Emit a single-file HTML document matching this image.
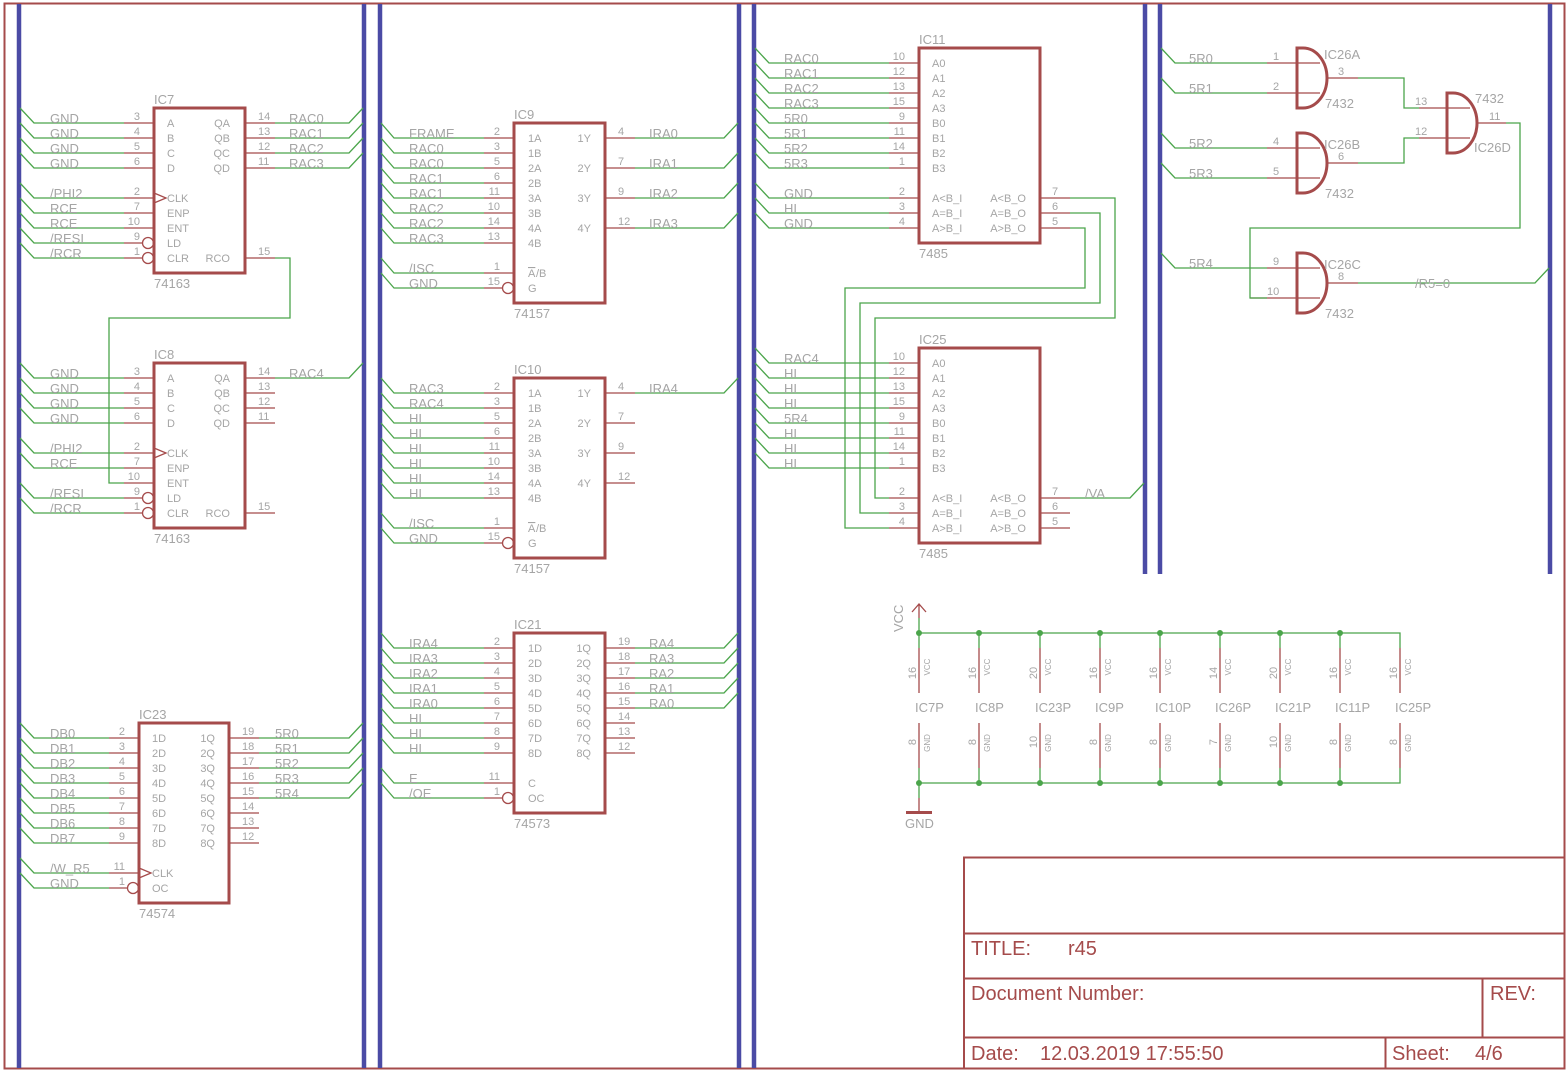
<!DOCTYPE html>
<html><head><meta charset="utf-8"><style>
html,body{margin:0;padding:0;background:#fff}
svg{display:block}
.g{stroke:#4ba54b;stroke-width:1.3;fill:none}
.r{stroke:#a54b4b;stroke-width:1.3;fill:none}
.bx{stroke:#a54b4b;stroke-width:3;fill:none}
.b{stroke:#4b4ba5;stroke-width:4.5;fill:none}
text{font-family:"Liberation Sans",sans-serif;fill:#a5a5a5}
.n{font-size:13px}
.p{font-size:11px}
.s{font-size:10.5px}
.tb{font-size:20px;fill:#a54b4b}
</style></head><body>
<svg width="1567" height="1073" viewBox="0 0 1567 1073" xmlns="http://www.w3.org/2000/svg">
<!-- frame -->
<rect x="4.5" y="3.5" width="1560" height="1065" fill="none" stroke="#a54b4b" stroke-width="2"/>
<!-- buses -->
<path class="b" d="M19 4V1068M364 4V1068M380 4V1068M739 4V1068M754 4V1068M1145 4V574M1160 4V574M1550 4V574"/>

<!-- ================= IC7 ================= -->
<rect class="bx" x="154" y="108" width="91" height="165"/>
<path class="g" d="M20 108L34 123H124M20 123L34 138H124M20 138L34 153H124M20 153L34 168H124M20 183L34 198H124M20 198L34 213H124M20 213L34 228H124M20 228L34 243H124M20 243L34 258H124"/>
<path class="r" d="M124 123H154M124 138H154M124 153H154M124 168H154M124 198H154M124 213H154M124 228H154M124 243H142M124 258H142M154 193L166 198L154 203"/>
<circle class="r" cx="148" cy="243" r="5.5"/><circle class="r" cx="148" cy="258" r="5.5"/>
<path class="r" d="M245 123H275M245 138H275M245 153H275M245 168H275M245 258H275"/>
<path class="g" d="M275 123H349L363 108M275 138H349L363 123M275 153H349L363 138M275 168H349L363 153M275 258H290V318H109V483H124"/>
<text class="n" x="154" y="104">IC7</text><text class="n" x="154" y="288">74163</text>
<g class="n"><text x="50" y="123">GND</text><text x="50" y="138">GND</text><text x="50" y="153">GND</text><text x="50" y="168">GND</text><text x="50" y="198">/PHI2</text><text x="50" y="213">RCE</text><text x="50" y="228">RCE</text><text x="50" y="243">/RESI</text><text x="50" y="258">/RCR</text>
<text x="289" y="123">RAC0</text><text x="289" y="138">RAC1</text><text x="289" y="153">RAC2</text><text x="289" y="168">RAC3</text></g>
<g class="p" text-anchor="end"><text x="140" y="120">3</text><text x="140" y="135">4</text><text x="140" y="150">5</text><text x="140" y="165">6</text><text x="140" y="195">2</text><text x="140" y="210">7</text><text x="140" y="225">10</text><text x="140" y="240">9</text><text x="140" y="255">1</text>
<text x="230" y="127">QA</text><text x="230" y="142">QB</text><text x="230" y="157">QC</text><text x="230" y="172">QD</text><text x="230" y="262">RCO</text></g>
<g class="p"><text x="258" y="120">14</text><text x="258" y="135">13</text><text x="258" y="150">12</text><text x="258" y="165">11</text><text x="258" y="255">15</text>
<text x="167" y="127">A</text><text x="167" y="142">B</text><text x="167" y="157">C</text><text x="167" y="172">D</text><text x="167" y="202">CLK</text><text x="167" y="217">ENP</text><text x="167" y="232">ENT</text><text x="167" y="247">LD</text><text x="167" y="262">CLR</text></g>

<!-- ================= IC8 ================= -->
<rect class="bx" x="154" y="363" width="91" height="165"/>
<path class="g" d="M20 363L34 378H124M20 378L34 393H124M20 393L34 408H124M20 408L34 423H124M20 438L34 453H124M20 453L34 468H124M20 483L34 498H124M20 498L34 513H124"/>
<path class="r" d="M124 378H154M124 393H154M124 408H154M124 423H154M124 453H154M124 468H154M124 483H154M124 498H142M124 513H142M154 448L166 453L154 458"/>
<circle class="r" cx="148" cy="498" r="5.5"/><circle class="r" cx="148" cy="513" r="5.5"/>
<path class="r" d="M245 378H275M245 393H275M245 408H275M245 423H275M245 513H275"/>
<path class="g" d="M275 378H349L363 363"/>
<text class="n" x="154" y="359">IC8</text><text class="n" x="154" y="543">74163</text>
<g class="n"><text x="50" y="378">GND</text><text x="50" y="393">GND</text><text x="50" y="408">GND</text><text x="50" y="423">GND</text><text x="50" y="453">/PHI2</text><text x="50" y="468">RCE</text><text x="50" y="498">/RESI</text><text x="50" y="513">/RCR</text><text x="289" y="378">RAC4</text></g>
<g class="p" text-anchor="end"><text x="140" y="375">3</text><text x="140" y="390">4</text><text x="140" y="405">5</text><text x="140" y="420">6</text><text x="140" y="450">2</text><text x="140" y="465">7</text><text x="140" y="480">10</text><text x="140" y="495">9</text><text x="140" y="510">1</text>
<text x="230" y="382">QA</text><text x="230" y="397">QB</text><text x="230" y="412">QC</text><text x="230" y="427">QD</text><text x="230" y="517">RCO</text></g>
<g class="p"><text x="258" y="375">14</text><text x="258" y="390">13</text><text x="258" y="405">12</text><text x="258" y="420">11</text><text x="258" y="510">15</text>
<text x="167" y="382">A</text><text x="167" y="397">B</text><text x="167" y="412">C</text><text x="167" y="427">D</text><text x="167" y="457">CLK</text><text x="167" y="472">ENP</text><text x="167" y="487">ENT</text><text x="167" y="502">LD</text><text x="167" y="517">CLR</text></g>

<!-- ================= IC23 ================= -->
<rect class="bx" x="139" y="723" width="90" height="180"/>
<path class="g" d="M20 723L34 738H109M20 738L34 753H109M20 753L34 768H109M20 768L34 783H109M20 783L34 798H109M20 798L34 813H109M20 813L34 828H109M20 828L34 843H109M20 858L34 873H109M20 873L34 888H109"/>
<path class="r" d="M109 738H139M109 753H139M109 768H139M109 783H139M109 798H139M109 813H139M109 828H139M109 843H139M109 873H139M109 888H127M139 868L151 873L139 878"/>
<circle class="r" cx="133" cy="888" r="5.5"/>
<path class="r" d="M229 738H259M229 753H259M229 768H259M229 783H259M229 798H259M229 813H259M229 828H259M229 843H259"/>
<path class="g" d="M259 738H349L363 723M259 753H349L363 738M259 768H349L363 753M259 783H349L363 768M259 798H349L363 783"/>
<text class="n" x="139" y="719">IC23</text><text class="n" x="139" y="918">74574</text>
<g class="n"><text x="50" y="738">DB0</text><text x="50" y="753">DB1</text><text x="50" y="768">DB2</text><text x="50" y="783">DB3</text><text x="50" y="798">DB4</text><text x="50" y="813">DB5</text><text x="50" y="828">DB6</text><text x="50" y="843">DB7</text><text x="50" y="873">/W_R5</text><text x="50" y="888">GND</text>
<text x="275" y="738">5R0</text><text x="275" y="753">5R1</text><text x="275" y="768">5R2</text><text x="275" y="783">5R3</text><text x="275" y="798">5R4</text></g>
<g class="p" text-anchor="end"><text x="125" y="735">2</text><text x="125" y="750">3</text><text x="125" y="765">4</text><text x="125" y="780">5</text><text x="125" y="795">6</text><text x="125" y="810">7</text><text x="125" y="825">8</text><text x="125" y="840">9</text><text x="125" y="870">11</text><text x="125" y="885">1</text>
<text x="215" y="742">1Q</text><text x="215" y="757">2Q</text><text x="215" y="772">3Q</text><text x="215" y="787">4Q</text><text x="215" y="802">5Q</text><text x="215" y="817">6Q</text><text x="215" y="832">7Q</text><text x="215" y="847">8Q</text></g>
<g class="p"><text x="242" y="735">19</text><text x="242" y="750">18</text><text x="242" y="765">17</text><text x="242" y="780">16</text><text x="242" y="795">15</text><text x="242" y="810">14</text><text x="242" y="825">13</text><text x="242" y="840">12</text>
<text x="152" y="742">1D</text><text x="152" y="757">2D</text><text x="152" y="772">3D</text><text x="152" y="787">4D</text><text x="152" y="802">5D</text><text x="152" y="817">6D</text><text x="152" y="832">7D</text><text x="152" y="847">8D</text><text x="152" y="877">CLK</text><text x="152" y="892">OC</text></g>

<!-- ================= IC9 ================= -->
<rect class="bx" x="514" y="123" width="91" height="180"/>
<path class="g" d="M381 123L394 138H484M381 138L394 153H484M381 153L394 168H484M381 168L394 183H484M381 183L394 198H484M381 198L394 213H484M381 213L394 228H484M381 228L394 243H484M381 258L394 273H484M381 273L394 288H484"/>
<path class="r" d="M484 138H514M484 153H514M484 168H514M484 183H514M484 198H514M484 213H514M484 228H514M484 243H514M484 273H514M484 288H502"/>
<circle class="r" cx="508" cy="288" r="5.5"/>
<path class="r" d="M605 138H635M605 168H635M605 198H635M605 228H635"/>
<path class="g" d="M635 138H724L738 123M635 168H724L738 153M635 198H724L738 183M635 228H724L738 213"/>
<text class="n" x="514" y="119">IC9</text><text class="n" x="514" y="318">74157</text>
<g class="n"><text x="409" y="138">FRAME</text><text x="409" y="153">RAC0</text><text x="409" y="168">RAC0</text><text x="409" y="183">RAC1</text><text x="409" y="198">RAC1</text><text x="409" y="213">RAC2</text><text x="409" y="228">RAC2</text><text x="409" y="243">RAC3</text><text x="409" y="273">/ISC</text><text x="409" y="288">GND</text>
<text x="649" y="138">IRA0</text><text x="649" y="168">IRA1</text><text x="649" y="198">IRA2</text><text x="649" y="228">IRA3</text></g>
<g class="p" text-anchor="end"><text x="500" y="135">2</text><text x="500" y="150">3</text><text x="500" y="165">5</text><text x="500" y="180">6</text><text x="500" y="195">11</text><text x="500" y="210">10</text><text x="500" y="225">14</text><text x="500" y="240">13</text><text x="500" y="270">1</text><text x="500" y="285">15</text>
<text x="591" y="142">1Y</text><text x="591" y="172">2Y</text><text x="591" y="202">3Y</text><text x="591" y="232">4Y</text></g>
<g class="p"><text x="618" y="135">4</text><text x="618" y="165">7</text><text x="618" y="195">9</text><text x="618" y="225">12</text>
<text x="528" y="142">1A</text><text x="528" y="157">1B</text><text x="528" y="172">2A</text><text x="528" y="187">2B</text><text x="528" y="202">3A</text><text x="528" y="217">3B</text><text x="528" y="232">4A</text><text x="528" y="247">4B</text><text x="528" y="277" text-decoration="overline">A</text><text x="536" y="277">/B</text><text x="528" y="292">G</text></g>

<!-- ================= IC10 ================= -->
<rect class="bx" x="514" y="378" width="91" height="180"/>
<path class="g" d="M381 378L394 393H484M381 393L394 408H484M381 408L394 423H484M381 423L394 438H484M381 438L394 453H484M381 453L394 468H484M381 468L394 483H484M381 483L394 498H484M381 513L394 528H484M381 528L394 543H484"/>
<path class="r" d="M484 393H514M484 408H514M484 423H514M484 438H514M484 453H514M484 468H514M484 483H514M484 498H514M484 528H514M484 543H502"/>
<circle class="r" cx="508" cy="543" r="5.5"/>
<path class="r" d="M605 393H635M605 423H635M605 453H635M605 483H635"/>
<path class="g" d="M635 393H724L738 378"/>
<text class="n" x="514" y="374">IC10</text><text class="n" x="514" y="573">74157</text>
<g class="n"><text x="409" y="393">RAC3</text><text x="409" y="408">RAC4</text><text x="409" y="423">HI</text><text x="409" y="438">HI</text><text x="409" y="453">HI</text><text x="409" y="468">HI</text><text x="409" y="483">HI</text><text x="409" y="498">HI</text><text x="409" y="528">/ISC</text><text x="409" y="543">GND</text><text x="649" y="393">IRA4</text></g>
<g class="p" text-anchor="end"><text x="500" y="390">2</text><text x="500" y="405">3</text><text x="500" y="420">5</text><text x="500" y="435">6</text><text x="500" y="450">11</text><text x="500" y="465">10</text><text x="500" y="480">14</text><text x="500" y="495">13</text><text x="500" y="525">1</text><text x="500" y="540">15</text>
<text x="591" y="397">1Y</text><text x="591" y="427">2Y</text><text x="591" y="457">3Y</text><text x="591" y="487">4Y</text></g>
<g class="p"><text x="618" y="390">4</text><text x="618" y="420">7</text><text x="618" y="450">9</text><text x="618" y="480">12</text>
<text x="528" y="397">1A</text><text x="528" y="412">1B</text><text x="528" y="427">2A</text><text x="528" y="442">2B</text><text x="528" y="457">3A</text><text x="528" y="472">3B</text><text x="528" y="487">4A</text><text x="528" y="502">4B</text><text x="528" y="532" text-decoration="overline">A</text><text x="536" y="532">/B</text><text x="528" y="547">G</text></g>

<!-- ================= IC21 ================= -->
<rect class="bx" x="514" y="633" width="91" height="180"/>
<path class="g" d="M381 633L394 648H484M381 648L394 663H484M381 663L394 678H484M381 678L394 693H484M381 693L394 708H484M381 708L394 723H484M381 723L394 738H484M381 738L394 753H484M381 768L394 783H484M381 783L394 798H484"/>
<path class="r" d="M484 648H514M484 663H514M484 678H514M484 693H514M484 708H514M484 723H514M484 738H514M484 753H514M484 783H514M484 798H502"/>
<circle class="r" cx="508" cy="798" r="5.5"/>
<path class="r" d="M605 648H635M605 663H635M605 678H635M605 693H635M605 708H635M605 723H635M605 738H635M605 753H635"/>
<path class="g" d="M635 648H724L738 633M635 663H724L738 648M635 678H724L738 663M635 693H724L738 678M635 708H724L738 693"/>
<text class="n" x="514" y="629">IC21</text><text class="n" x="514" y="828">74573</text>
<g class="n"><text x="409" y="648">IRA4</text><text x="409" y="663">IRA3</text><text x="409" y="678">IRA2</text><text x="409" y="693">IRA1</text><text x="409" y="708">IRA0</text><text x="409" y="723">HI</text><text x="409" y="738">HI</text><text x="409" y="753">HI</text><text x="409" y="783">E</text><text x="409" y="798">/OE</text>
<text x="649" y="648">RA4</text><text x="649" y="663">RA3</text><text x="649" y="678">RA2</text><text x="649" y="693">RA1</text><text x="649" y="708">RA0</text></g>
<g class="p" text-anchor="end"><text x="500" y="645">2</text><text x="500" y="660">3</text><text x="500" y="675">4</text><text x="500" y="690">5</text><text x="500" y="705">6</text><text x="500" y="720">7</text><text x="500" y="735">8</text><text x="500" y="750">9</text><text x="500" y="780">11</text><text x="500" y="795">1</text>
<text x="591" y="652">1Q</text><text x="591" y="667">2Q</text><text x="591" y="682">3Q</text><text x="591" y="697">4Q</text><text x="591" y="712">5Q</text><text x="591" y="727">6Q</text><text x="591" y="742">7Q</text><text x="591" y="757">8Q</text></g>
<g class="p"><text x="618" y="645">19</text><text x="618" y="660">18</text><text x="618" y="675">17</text><text x="618" y="690">16</text><text x="618" y="705">15</text><text x="618" y="720">14</text><text x="618" y="735">13</text><text x="618" y="750">12</text>
<text x="528" y="652">1D</text><text x="528" y="667">2D</text><text x="528" y="682">3D</text><text x="528" y="697">4D</text><text x="528" y="712">5D</text><text x="528" y="727">6D</text><text x="528" y="742">7D</text><text x="528" y="757">8D</text><text x="528" y="787">C</text><text x="528" y="802">OC</text></g>

<!-- ================= IC11 ================= -->
<rect class="bx" x="919" y="48" width="121" height="195"/>
<path class="g" d="M755 48L769 63H889M755 63L769 78H889M755 78L769 93H889M755 93L769 108H889M755 108L769 123H889M755 123L769 138H889M755 138L769 153H889M755 153L769 168H889M755 183L769 198H889M755 198L769 213H889M755 213L769 228H889"/>
<path class="r" d="M889 63H919M889 78H919M889 93H919M889 108H919M889 123H919M889 138H919M889 153H919M889 168H919M889 198H919M889 213H919M889 228H919M1040 198H1070M1040 213H1070M1040 228H1070"/>
<path class="g" d="M1070 198H1115V318H875V498H889M1070 213H1100V303H860V513H889M1070 228H1085V288H845V528H889"/>
<text class="n" x="919" y="44">IC11</text><text class="n" x="919" y="258">7485</text>
<g class="n"><text x="784" y="63">RAC0</text><text x="784" y="78">RAC1</text><text x="784" y="93">RAC2</text><text x="784" y="108">RAC3</text><text x="784" y="123">5R0</text><text x="784" y="138">5R1</text><text x="784" y="153">5R2</text><text x="784" y="168">5R3</text><text x="784" y="198">GND</text><text x="784" y="213">HI</text><text x="784" y="228">GND</text></g>
<g class="p" text-anchor="end"><text x="905" y="60">10</text><text x="905" y="75">12</text><text x="905" y="90">13</text><text x="905" y="105">15</text><text x="905" y="120">9</text><text x="905" y="135">11</text><text x="905" y="150">14</text><text x="905" y="165">1</text><text x="905" y="195">2</text><text x="905" y="210">3</text><text x="905" y="225">4</text>
<text x="1026" y="202">A&lt;B_O</text><text x="1026" y="217">A=B_O</text><text x="1026" y="232">A&gt;B_O</text></g>
<g class="p"><text x="1052" y="195">7</text><text x="1052" y="210">6</text><text x="1052" y="225">5</text>
<text x="932" y="67">A0</text><text x="932" y="82">A1</text><text x="932" y="97">A2</text><text x="932" y="112">A3</text><text x="932" y="127">B0</text><text x="932" y="142">B1</text><text x="932" y="157">B2</text><text x="932" y="172">B3</text><text x="932" y="202">A&lt;B_I</text><text x="932" y="217">A=B_I</text><text x="932" y="232">A&gt;B_I</text></g>

<!-- ================= IC25 ================= -->
<rect class="bx" x="919" y="348" width="121" height="195"/>
<path class="g" d="M755 348L769 363H889M755 363L769 378H889M755 378L769 393H889M755 393L769 408H889M755 408L769 423H889M755 423L769 438H889M755 438L769 453H889M755 453L769 468H889"/>
<path class="r" d="M889 363H919M889 378H919M889 393H919M889 408H919M889 423H919M889 438H919M889 453H919M889 468H919M889 498H919M889 513H919M889 528H919M1040 498H1070M1040 513H1070M1040 528H1070"/>
<path class="g" d="M1070 498H1130L1144 483"/>
<text class="n" x="919" y="344">IC25</text><text class="n" x="919" y="558">7485</text>
<g class="n"><text x="784" y="363">RAC4</text><text x="784" y="378">HI</text><text x="784" y="393">HI</text><text x="784" y="408">HI</text><text x="784" y="423">5R4</text><text x="784" y="438">HI</text><text x="784" y="453">HI</text><text x="784" y="468">HI</text><text x="1085" y="498">/VA</text></g>
<g class="p" text-anchor="end"><text x="905" y="360">10</text><text x="905" y="375">12</text><text x="905" y="390">13</text><text x="905" y="405">15</text><text x="905" y="420">9</text><text x="905" y="435">11</text><text x="905" y="450">14</text><text x="905" y="465">1</text><text x="905" y="495">2</text><text x="905" y="510">3</text><text x="905" y="525">4</text>
<text x="1026" y="502">A&lt;B_O</text><text x="1026" y="517">A=B_O</text><text x="1026" y="532">A&gt;B_O</text></g>
<g class="p"><text x="1052" y="495">7</text><text x="1052" y="510">6</text><text x="1052" y="525">5</text>
<text x="932" y="367">A0</text><text x="932" y="382">A1</text><text x="932" y="397">A2</text><text x="932" y="412">A3</text><text x="932" y="427">B0</text><text x="932" y="442">B1</text><text x="932" y="457">B2</text><text x="932" y="472">B3</text><text x="932" y="502">A&lt;B_I</text><text x="932" y="517">A=B_I</text><text x="932" y="532">A&gt;B_I</text></g>

<!-- ================= IC26 gates ================= -->
<path class="g" d="M1161 48L1175 63H1267M1161 78L1175 93H1267M1161 133L1175 148H1267M1161 163L1175 178H1267M1161 253L1175 268H1267"/>
<path class="r" d="M1267 63H1320M1267 93H1320M1267 148H1320M1267 178H1320M1267 268H1320M1250 298H1320M1327 78H1358M1327 163H1358M1327 283H1358M1419 108H1470M1419 138H1470M1477 123H1506"/>
<path class="bx" d="M1297 48H1303A24 30 0 0 1 1303 108H1297ZM1297 133H1303A24 30 0 0 1 1303 193H1297ZM1297 253H1303A24 30 0 0 1 1303 313H1297ZM1447 93H1453A24 30 0 0 1 1453 153H1447Z"/>
<path class="g" d="M1358 78H1404V108H1419M1358 163H1404V138H1419M1506 123H1520V228H1250V298H1267M1358 283H1535L1549 268"/>
<g class="n"><text x="1189" y="63">5R0</text><text x="1189" y="93">5R1</text><text x="1189" y="148">5R2</text><text x="1189" y="178">5R3</text><text x="1189" y="268">5R4</text><text x="1415" y="288">/R5=0</text>
<text x="1324" y="59">IC26A</text><text x="1325" y="108">7432</text><text x="1324" y="149">IC26B</text><text x="1325" y="198">7432</text><text x="1324" y="269">IC26C</text><text x="1325" y="318">7432</text><text x="1475" y="103">7432</text><text x="1474" y="152">IC26D</text></g>
<g class="p"><text x="1273" y="60">1</text><text x="1273" y="90">2</text><text x="1273" y="145">4</text><text x="1273" y="175">5</text><text x="1273" y="265">9</text><text x="1267" y="295">10</text><text x="1338" y="75">3</text><text x="1338" y="160">6</text><text x="1338" y="280">8</text><text x="1415" y="105">13</text><text x="1415" y="135">12</text><text x="1489" y="120">11</text></g>

<!-- ================= power ================= -->
<path class="g" d="M919 618V633H1400V648M919 783H1400V768M919 783V798M919 633V648M979 633V648M1040 633V648M1100 633V648M1160 633V648M1220 633V648M1280 633V648M1340 633V648M919 768V783M979 768V783M1040 768V783M1100 768V783M1160 768V783M1220 768V783M1280 768V783M1340 768V783"/>
<path class="r" d="M919 648V693M979 648V693M1040 648V693M1100 648V693M1160 648V693M1220 648V693M1280 648V693M1340 648V693M1400 648V693M919 723V768M979 723V768M1040 723V768M1100 723V768M1160 723V768M1220 723V768M1280 723V768M1340 723V768M1400 723V768M919 618V604M912 612L919 604L926 612M919 798V812"/>
<path d="M906 812.5H932" stroke="#a54b4b" stroke-width="3"/>
<g fill="#4ba54b"><circle cx="919" cy="633" r="3"/><circle cx="979" cy="633" r="3"/><circle cx="1040" cy="633" r="3"/><circle cx="1100" cy="633" r="3"/><circle cx="1160" cy="633" r="3"/><circle cx="1220" cy="633" r="3"/><circle cx="1280" cy="633" r="3"/><circle cx="1340" cy="633" r="3"/>
<circle cx="919" cy="783" r="3"/><circle cx="979" cy="783" r="3"/><circle cx="1040" cy="783" r="3"/><circle cx="1100" cy="783" r="3"/><circle cx="1160" cy="783" r="3"/><circle cx="1220" cy="783" r="3"/><circle cx="1280" cy="783" r="3"/><circle cx="1340" cy="783" r="3"/></g>
<text class="n" transform="translate(903,632) rotate(-90)">VCC</text>
<text class="n" x="905" y="828">GND</text>
<g class="n"><text x="915" y="712">IC7P</text><text x="975" y="712">IC8P</text><text x="1035" y="712">IC23P</text><text x="1095" y="712">IC9P</text><text x="1155" y="712">IC10P</text><text x="1215" y="712">IC26P</text><text x="1275" y="712">IC21P</text><text x="1335" y="712">IC11P</text><text x="1395" y="712">IC25P</text></g>
<g class="p" text-anchor="middle">
<text transform="translate(916,673) rotate(-90)">16</text><text transform="translate(976,673) rotate(-90)">16</text><text transform="translate(1037,673) rotate(-90)">20</text><text transform="translate(1097,673) rotate(-90)">16</text><text transform="translate(1157,673) rotate(-90)">16</text><text transform="translate(1217,673) rotate(-90)">14</text><text transform="translate(1277,673) rotate(-90)">20</text><text transform="translate(1337,673) rotate(-90)">16</text><text transform="translate(1397,673) rotate(-90)">16</text>
<text transform="translate(916,742) rotate(-90)">8</text><text transform="translate(976,742) rotate(-90)">8</text><text transform="translate(1037,742) rotate(-90)">10</text><text transform="translate(1097,742) rotate(-90)">8</text><text transform="translate(1157,742) rotate(-90)">8</text><text transform="translate(1217,742) rotate(-90)">7</text><text transform="translate(1277,742) rotate(-90)">10</text><text transform="translate(1337,742) rotate(-90)">8</text><text transform="translate(1397,742) rotate(-90)">8</text></g>
<g style="font-size:8px" text-anchor="middle">
<text transform="translate(930,667) rotate(-90)">VCC</text><text transform="translate(990,667) rotate(-90)">VCC</text><text transform="translate(1051,667) rotate(-90)">VCC</text><text transform="translate(1111,667) rotate(-90)">VCC</text><text transform="translate(1171,667) rotate(-90)">VCC</text><text transform="translate(1231,667) rotate(-90)">VCC</text><text transform="translate(1291,667) rotate(-90)">VCC</text><text transform="translate(1351,667) rotate(-90)">VCC</text><text transform="translate(1411,667) rotate(-90)">VCC</text>
<text transform="translate(930,743) rotate(-90)">GND</text><text transform="translate(990,743) rotate(-90)">GND</text><text transform="translate(1051,743) rotate(-90)">GND</text><text transform="translate(1111,743) rotate(-90)">GND</text><text transform="translate(1171,743) rotate(-90)">GND</text><text transform="translate(1231,743) rotate(-90)">GND</text><text transform="translate(1291,743) rotate(-90)">GND</text><text transform="translate(1351,743) rotate(-90)">GND</text><text transform="translate(1411,743) rotate(-90)">GND</text></g>

<!-- ================= title block ================= -->
<path d="M964 1068V857.5H1565M964 933.5H1565M964 978.5H1565M964 1037.5H1565M1482.5 978V1037M1385.5 1037V1068" stroke="#a54b4b" stroke-width="2" fill="none"/>
<text class="tb" x="971" y="955">TITLE:</text><text class="tb" x="1068" y="955">r45</text>
<text class="tb" x="971" y="1000">Document Number:</text><text class="tb" x="1490" y="1000">REV:</text>
<text class="tb" x="971" y="1060">Date:</text><text class="tb" x="1040" y="1060">12.03.2019 17:55:50</text>
<text class="tb" x="1392" y="1060">Sheet:</text><text class="tb" x="1475" y="1060">4/6</text>
</svg>
</body></html>
